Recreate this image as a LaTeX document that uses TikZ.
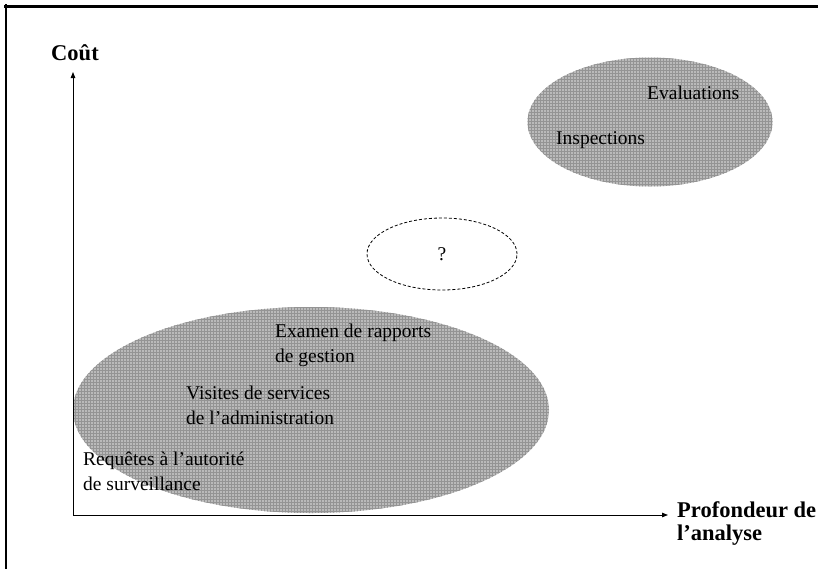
\documentclass[tikz,border=0pt]{standalone}
\usepackage{fontspec}
\setmainfont{Liberation Serif}
\usetikzlibrary{shapes.geometric,arrows.meta,patterns}
\begin{document}
\begin{tikzpicture}[x=1pt,y=-1pt,
  zone/.style={ellipse,inner sep=0pt,fill=black!27,
    postaction={pattern=grid,pattern color=black!42}},
  dashzone/.style={ellipse,inner sep=0pt,draw,dash pattern=on 3pt off 2pt,line width=0.8pt},
  lbl/.style={inner sep=0pt,align=left,anchor=west,font=\fontsize{19.5}{25}\selectfont},
  axlbl/.style={inner sep=0pt,align=left,font=\bfseries\fontsize{22.5}{23}\selectfont},
  axis/.style={line width=0.9pt,-{Triangle[length=6pt,width=4.5pt]}},
  frame/.style={line cap=rect}]
\useasboundingbox (0,0) rectangle (818,568);
% frame
\draw[frame,line width=3pt] (5,6) -- (818,6);
\draw[frame,line width=2pt] (6,5) -- (6,568);
% zones
\node[zone,minimum width=476pt,minimum height=206pt] (big) at (311,410) {};
\node[zone,minimum width=245pt,minimum height=129pt] (top) at (650,122) {};
\node[dashzone,minimum width=150pt,minimum height=72pt] (q) at (442,254) {};
\node[font=\fontsize{19.5}{25}\selectfont,inner sep=0pt] (qm) at (442,254) {?};
% axes
\coordinate (O) at (73,515);
\coordinate (Ytop) at (73,72);
\coordinate (Xend) at (668,515);
\draw[axis] (O) -- (Ytop);
\draw[axis] (O) -- (Xend);
\node[axlbl] (cout) at (75,53) {Coût};
\node[axlbl,anchor=west] (prof) at (677,523.5) {Profondeur de\\l’analyse};
% labels
\node[lbl] (eval) at (647,93) {Evaluations};
\node[lbl] (insp) at (556,140) {Inspections};
\node[lbl] (exam) at (275,345.5) {Examen de rapports\\de gestion};
\node[lbl] (visit) at (186,405.5) {Visites de services\\de l’administration};
\node[lbl] (req) at (83,471) {Requêtes à l’autorité\\de surveillance};
\end{tikzpicture}
\end{document}
